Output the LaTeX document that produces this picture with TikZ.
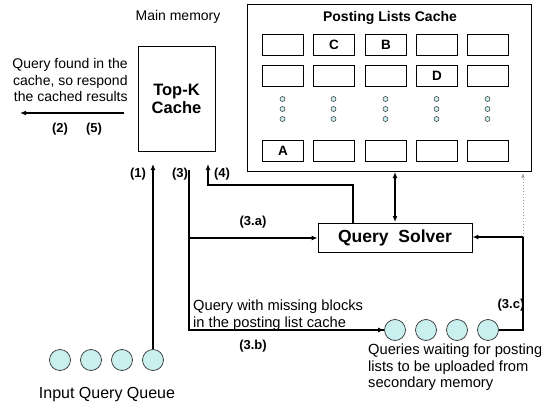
\documentclass[tikz,border=0pt]{standalone}
\usepackage{fontspec}
\setmainfont{Liberation Sans}
\usetikzlibrary{arrows.meta}
\definecolor{qfill}{HTML}{C9EFEF}
\definecolor{qline}{HTML}{333333}
\tikzset{
  txt/.style={inner sep=0pt, font=\fontsize{14}{16.5}\selectfont},
  btxt/.style={inner sep=0pt, font=\fontsize{14.7}{16.5}\selectfont},
  lbl/.style={inner sep=0pt, font=\bfseries\fontsize{13}{14}\selectfont},
  cell/.style={draw, line width=0.9pt, minimum width=41pt, minimum height=21pt, inner sep=0pt, anchor=north west},
  celltxt/.style={inner sep=0pt, font=\bfseries\fontsize{13.5}{14}\selectfont},
  bigbox/.style={draw, line width=0.9pt},
  qc/.style={circle, draw=qline, fill=qfill, line width=0.7pt, minimum size=21pt, inner sep=0pt},
  dotc/.style={circle, draw=qline, fill=qfill, line width=0.5pt, minimum size=5pt, inner sep=0pt},
  tip/.style={-{Latex[length=6pt,width=5pt]}},
  conn/.style={line width=1.5pt, tip},
  plain/.style={line width=1.5pt},
}
\begin{document}
\begin{tikzpicture}[x=1pt,y=-1pt]
\useasboundingbox (0,0) rectangle (541,404);
% Main memory label
\node[txt] (mm) at (178,17) {Main memory};
% Top-K cache
\node[bigbox, minimum width=77pt, minimum height=105pt, inner sep=0pt, align=center,
      font=\bfseries\fontsize{16.5}{18}\selectfont] (topk) at (176.5,98.5) {Top-K\\Cache};
% Posting lists cache
\node[bigbox, minimum width=284pt, minimum height=167pt, inner sep=0pt] (plc) at (389,87.5) {};
\node[inner sep=0pt, font=\bfseries\fontsize{14}{16}\selectfont] (plct) at (390,18) {Posting Lists Cache};
% cells
\foreach \c/\x in {1/262,2/313,3/365,4/416,5/467}{
  \node[cell] (r1c\c) at (\x,34) {};
  \node[cell] (r2c\c) at (\x,65) {};
  \node[cell] (r4c\c) at (\x,140) {};
  \foreach \d/\y in {1/99,2/109,3/119}{
    \node[dotc] (d\c\d) at (\x+20.5,\y) {};
  }
}
\node[celltxt] (tc) at (r1c2.center) {C};
\node[celltxt] (tb) at (r1c3.center) {B};
\node[celltxt] (td) at (r2c4.center) {D};
\node[celltxt] (ta) at (r4c1.center) {A};
% Query solver
\node[bigbox, minimum width=154pt, minimum height=29pt, inner sep=0pt,
      font=\bfseries\fontsize{17.5}{19}\selectfont] (qs) at (395,237.5) {Query\ \ Solver};
% Input queue
\foreach \i/\x in {1/60,2/91,3/122,4/153}{
  \node[qc] (in\i) at (\x,360) {};
}
\node[inner sep=0pt, font=\fontsize{16}{18}\selectfont] (iqq) at (107,395) {Input Query Queue};
% waiting queue
\foreach \i/\x in {1/395,2/426,3/457,4/488}{
  \node[qc] (w\i) at (\x,330) {};
}
\node[btxt, align=left, anchor=north west] (wt) at (368,344) {Queries waiting for posting\\lists to be uploaded from\\secondary memory};
% found text and left arrow
\node[txt, align=right] (found) at (70,80) {Query found in the\\cache, so respond\\the cached results};
\coordinate (la1) at (124,113);
\coordinate (la2) at (20,113);
\draw[conn] (la1) -- (la2);
\node[lbl] (l2) at (60,129) {(2)};
\node[lbl] (l5) at (94,129) {(5)};
% (1)
\coordinate (t1) at (153,164);
\draw[conn] (in4.north) -- (t1);
\node[lbl] (l1) at (138,174) {(1)};
% (3)
\coordinate (s3) at (189,170);
\coordinate (b3a) at (189,238);
\coordinate (b3b) at (189,330);
\draw[plain] (s3) -- (b3b) -- (w1.west);
\draw[conn] (b3a) -- (qs.west |- b3a);
\draw[conn] (w1.west) ++(-8,0) coordinate (b3bx) -- (w1.west);
\node[lbl] (l3) at (180,174) {(3)};
\node[lbl] (l3a) at (253,222) {(3.a)};
\node[lbl] (l3b) at (253,346) {(3.b)};
\node[btxt, align=left, anchor=west] (miss) at (193,315) {Query with missing blocks\\in the posting list cache};
% (4)
\coordinate (q4) at (353,223);
\coordinate (c4a) at (353,185);
\coordinate (c4b) at (208,185);
\coordinate (t4) at (208,164);
\draw[conn] (q4) -- (c4a) -- (c4b) -- (t4);
\node[lbl] (l4) at (222,174) {(4)};
% bidirectional
\coordinate (ba) at (395,172);
\coordinate (bb) at (395,222);
\draw[line width=1.5pt, {Latex[length=6pt,width=5pt]}-{Latex[length=6pt,width=5pt]}] (ba) -- (bb);
% (3.c)
\coordinate (c3a) at (523,330);
\coordinate (c3b) at (523,237);
\draw[conn] (w4.east) -- (c3a) -- (c3b) -- (qs.east |- c3b);
\node[lbl] (l3c) at (511,305) {(3.c)};
% dotted
\coordinate (dt) at (523,173);
\draw[line width=0.8pt, dash pattern=on 1.5pt off 1.5pt, gray!80, -{Latex[length=4.5pt,width=3.5pt]}] (c3b) -- (dt);
\end{tikzpicture}
\end{document}
